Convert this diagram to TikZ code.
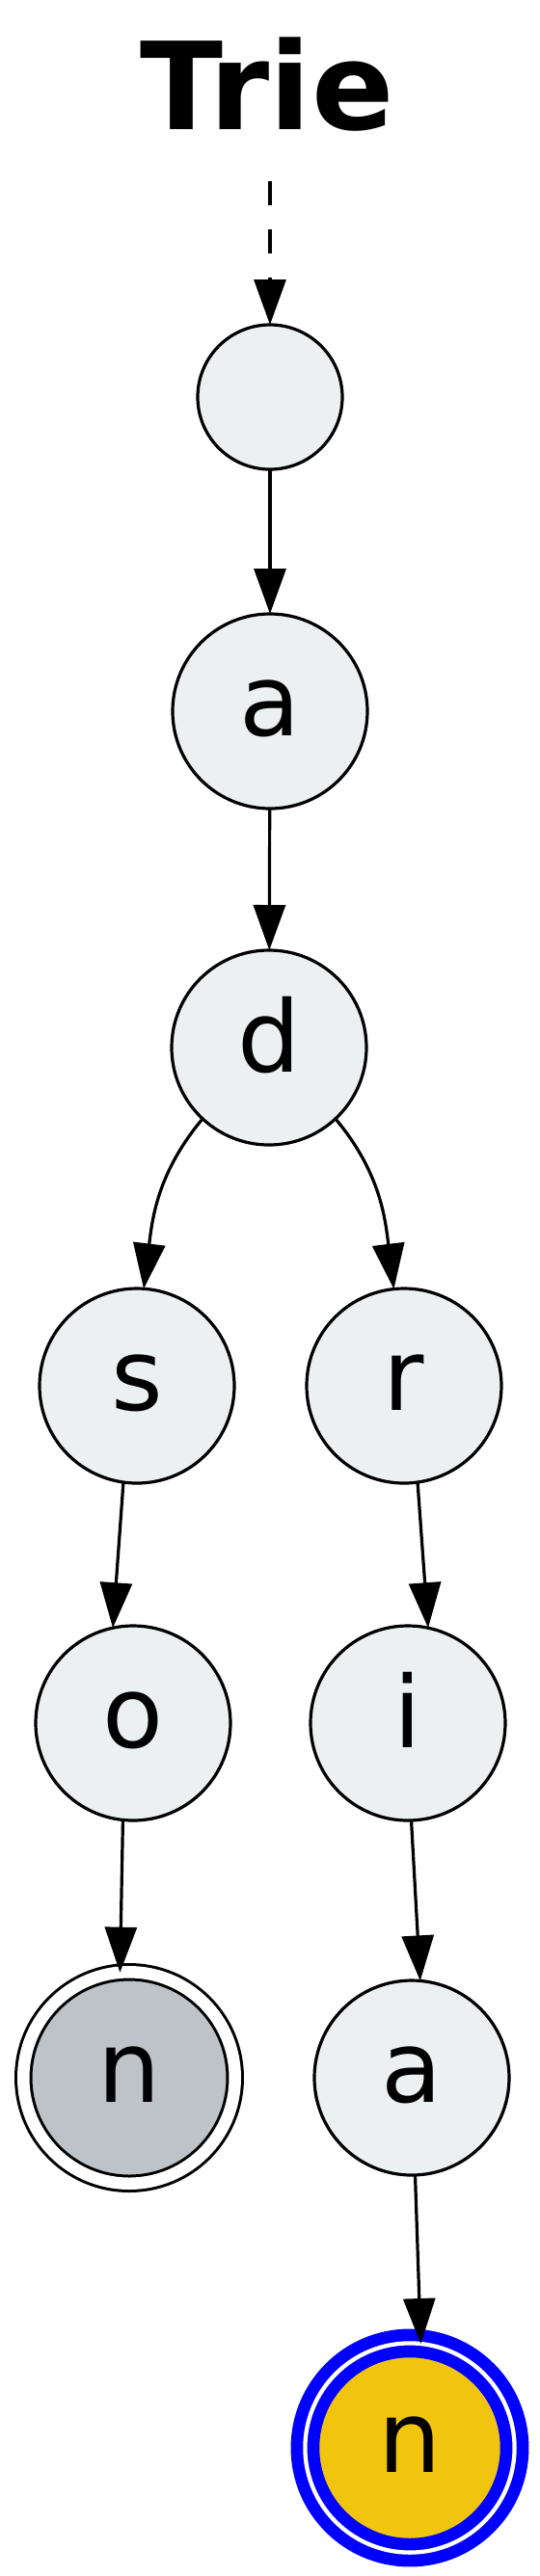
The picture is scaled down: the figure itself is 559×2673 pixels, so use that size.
\documentclass[tikz,border=0pt]{standalone}
\usepackage{fontspec}
\setmainfont{DejaVu Sans}
\usetikzlibrary{arrows.meta}
\definecolor{nodefill}{HTML}{ECF0F1}
\definecolor{leafgray}{HTML}{BDC3C7}
\definecolor{sunflower}{HTML}{F1C40F}
\definecolor{pureblue}{HTML}{0000FF}
\tikzset{
  trienode/.style={circle, draw=black, fill=nodefill, line width=1.6pt, inner sep=0pt, outer sep=0pt,
    minimum size=101pt, font=\fontsize{51.5}{60}\selectfont, text height=25.5pt, text depth=0pt},
  rootnode/.style={trienode, minimum size=75pt},
  endnode/.style={trienode, fill=leafgray, double=white, double distance=6.25pt, line width=1.5pt, minimum size=109.75pt},
  hitnode/.style={trienode, draw=pureblue, fill=sunflower, double=white, double distance=2.15pt, line width=6.35pt, minimum size=108.6pt},
  edge/.style={line width=1.6pt, -{Triangle[length=23.5pt,width=16.5pt]}},
  startedge/.style={edge, dash pattern=on 12.5pt off 12.5pt}
}
\begin{document}
\begin{tikzpicture}[x=0.5pt,y=-0.5pt]
\useasboundingbox[fill=white] (0,0) rectangle (559,2673);
\node[anchor=base, inner sep=0pt, font=\fontsize{63}{70}\selectfont\bfseries] (title) at (277,134) {Trie};
\coordinate (start) at (280,188);
\node[rootnode] (root) at (280,412) {};
\node[trienode] (a) at (280,738) {a};
\node[trienode] (d) at (279,1087) {d};
\node[trienode] (s) at (142,1438) {s};
\node[trienode] (r) at (419,1438) {r};
\node[trienode] (o) at (138,1788) {o};
\node[trienode] (i) at (423,1788) {i};
\node[endnode] (ng) at (134,2156) {n};
\node[trienode] (a2) at (427,2156) {a};
\node[hitnode] (nf) at (425,2540) {n};

\draw[startedge] (start) -- (root.north);
\draw[edge] (root) -- (a);
\draw[edge] (a) -- (d);
\draw[edge] (d.227) to[out=230, in=83] (s.86);
\draw[edge] (d.313) to[out=310, in=97] (r.96);
\draw[edge] (s.262) -- (o.102);
\draw[edge] (r.278) -- (i.78);
\draw[edge] (o.264) -- (ng.95);
\draw[edge] (i.272) -- (a2.85.5);
\draw[edge] (a2.272) -- (nf.84.6);
\end{tikzpicture}
\end{document}
